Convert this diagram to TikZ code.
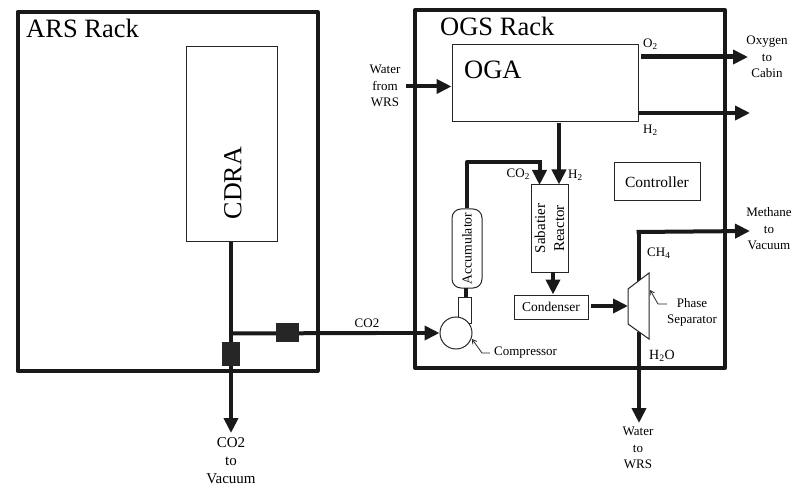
\documentclass[tikz,border=0pt]{standalone}
\usepackage{fontspec}
\setmainfont{Liberation Serif}
\usetikzlibrary{arrows.meta,positioning,calc}
\newcommand{\fs}[2]{\fontsize{#1}{#2}\selectfont}
\tikzset{
  rack/.style={draw=black!90,line width=4pt,line join=round,fill=none},
  unit/.style={draw=black!85,line width=1pt,fill=white,inner sep=0pt},
  pipe/.style={draw=black!90,line width=4pt},
  flow/.style={pipe,-{Triangle[length=15pt,width=14pt]}},
  thinlead/.style={draw=black!85,line width=0.8pt,-{Straight Barb[length=4pt,width=5pt]}},
  lbl/.style={inner sep=0pt,align=center,font=\fs{13}{16.5}},
  title/.style={inner sep=0pt,anchor=west,font=\fs{26.5}{30}},
  sub/.style={inner sep=0pt,font=\fs{13}{16}},
  valve/.style={fill=black!85,draw=none,inner sep=0pt},
}
\begin{document}
\begin{tikzpicture}[x=1pt,y=-1pt]
\useasboundingbox (0,0) rectangle (802,486);
% racks
\node[rack,minimum width=300pt,minimum height=359pt,inner sep=0pt] (ars) at (167.5,191.5) {};
\node[rack,minimum width=310pt,minimum height=358pt,inner sep=0pt] (ogs) at (570,189) {};
\node[title] (arst) at (26,28) {ARS Rack};
\node[title] (ogst) at (440,26) {OGS Rack};
% units
\node[unit,minimum width=91pt,minimum height=194pt] (cdra) at (231.5,144) {};
\node[inner sep=0pt,rotate=90,font=\fs{26}{30}] (cdrat) at (233,183) {CDRA};
\node[unit,minimum width=186pt,minimum height=77pt] (oga) at (545,83) {};
\node[title] (ogat) at (464,70) {OGA};
\node[unit,rotate=90,align=center,font=\fs{15}{19},minimum width=87pt,minimum height=37pt] (sab) at (549.5,228.5) {Sabatier\\Reactor};
\node[unit,minimum width=86pt,minimum height=38pt,font=\fs{15.5}{18}] (ctrl) at (657,182) {Controller};
\node[unit,minimum width=74pt,minimum height=24pt,font=\fs{13.5}{16}] (cond) at (551,307) {Condenser};
\node[unit,rounded corners=9pt,minimum width=79pt,minimum height=30pt,rotate=90,font=\fs{13.7}{16}] (acc) at (467,248.5) {Accumulator};
\node[unit,minimum width=13pt,minimum height=26pt] (neck) at (464.5,310) {};
\node[unit,circle,minimum size=32pt] (comp) at (456,333) {};
\coordinate (s1) at (628,289); \coordinate (s2) at (649,273);
\coordinate (s3) at (649,339); \coordinate (s4) at (628,324);
\coordinate (sl) at (628,306);
% pipes
\coordinate (cdraJ) at (231,333.5);
\coordinate (vac) at (231,433);
\coordinate (co2mid) at (375,333);
\draw[pipe] (cdra.south -| cdraJ) -- (cdraJ);
\draw[pipe,line cap=rect] (cdraJ) -- (co2mid);
\draw[flow] (co2mid) -- (comp.west);
\draw[flow] (cdraJ) -- (vac);
\node[valve,minimum width=23pt,minimum height=19pt] (v1) at (287.5,332.5) {};
\node[valve,minimum width=18pt,minimum height=24pt] (v2) at (231,353.5) {};
\coordinate (win) at (406,86.5);
\draw[flow] (win) -- (oga.west |- win);
\coordinate (o2s) at (641,57); \coordinate (o2e) at (748,57);
\draw[flow,line width=5pt] (o2s) -- (o2e);
\coordinate (h2e) at (750,113);
\draw[flow] (oga.east |- h2e) -- (h2e);
\coordinate (ogaout) at (559,123);
\draw[flow,line width=4.5pt] (ogaout) -- (ogaout |- sab.east);
\coordinate (cot) at (467,162);
\coordinate (coe) at (539.5,185);
\draw[pipe,line join=round] (acc.east) -- (cot) -- (cot -| coe);
\draw[flow] ($(cot -| coe)+(0,-2)$) -- (coe);
\coordinate (sabout) at (553,272);
\draw[flow] (sabout) -- (sabout |- cond.north);
\coordinate (condout) at (591,306);
\draw[flow] (condout) -- (sl);
\draw[pipe] (466,297) -- (466,288);
\coordinate (tp) at (638.5,232);
\coordinate (me) at (750,231);
\draw[pipe] (638.5,283) -- (tp);
\draw[flow] ($(tp)+(-2,0)$) -- (me);
\coordinate (wb) at (639,423);
\draw[flow] (639,332) -- (wb);
\draw[unit] (s1) -- (s2) -- (s3) -- (s4) -- cycle;
% annotations
\node[sub,anchor=west] (o2) at (643,44) {O\textsubscript{2}};
\node[sub,anchor=west] (h2) at (643,130) {H\textsubscript{2}};
\node[sub,anchor=east] (co2s) at (530,174) {CO\textsubscript{2}};
\node[sub,anchor=west] (h2s) at (568,175) {H\textsubscript{2}};
\node[sub,anchor=west] (ch4) at (647,253) {CH\textsubscript{4}};
\node[sub,anchor=west,font=\fs{14}{16}] (h2o) at (649,356) {H\textsubscript{2}O};
\node[lbl] (wfw) at (385,86) {Water\\from\\WRS};
\node[lbl] (oxy) at (767,57) {Oxygen\\to\\Cabin};
\node[lbl] (meth) at (769,229) {Methane\\to\\Vacuum};
\node[lbl] (wtw) at (638,448) {Water\\to\\WRS};
\node[lbl,font=\fs{15}{18}] (cvac) at (231,461) {CO2\\to\\Vacuum};
\node[sub] (co2l) at (367,323) {CO2};
\node[sub,anchor=west] (compl) at (494,353) {Compressor};
\node[lbl,font=\fs{13}{16}] (phase) at (692,312) {Phase\\Separator};
\coordinate (cl1) at (490,353); \coordinate (cl2) at (482,353); \coordinate (cl3) at (472,339);
\coordinate (pl1) at (667,304); \coordinate (pl2) at (658,304); \coordinate (pl3) at (650,290);
\draw[thinlead] (cl1) -- (cl2) -- (cl3);
\draw[thinlead] (pl1) -- (pl2) -- (pl3);
\end{tikzpicture}
\end{document}
